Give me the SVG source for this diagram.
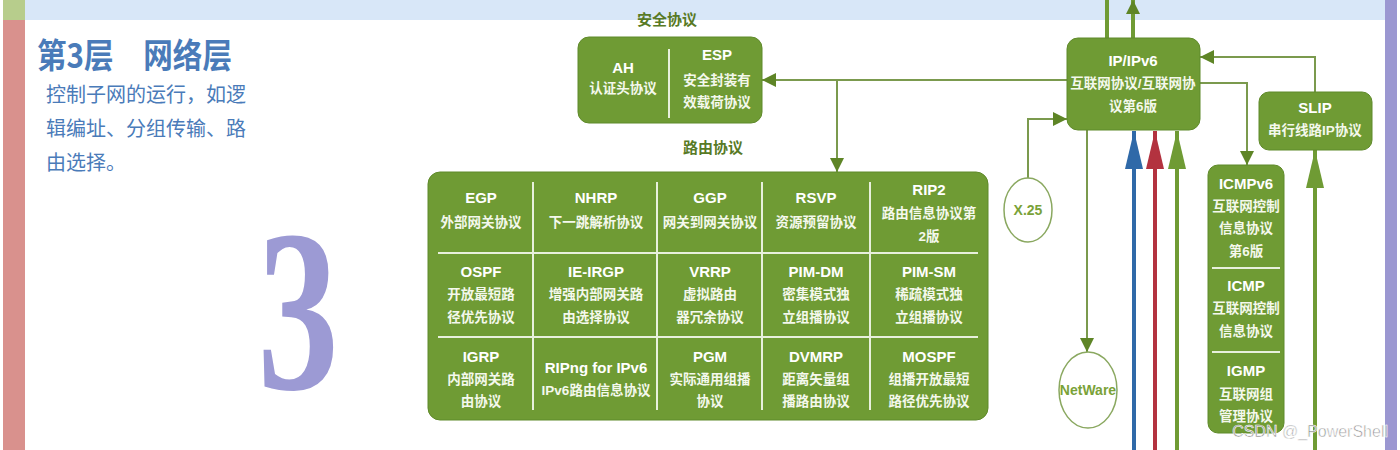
<svg xmlns="http://www.w3.org/2000/svg" width="1400" height="450" viewBox="0 0 1400 450">
<defs>
<style>
.box{fill:#6f9b34;stroke:#5f8a2a;stroke-width:1}
.div{stroke:#e8f0dc;stroke-width:2;fill:none}
.lat{font-family:"Liberation Sans","Noto Sans CJK SC",sans-serif;font-weight:700;font-size:15px;fill:#fff;text-anchor:middle}
.cjk{font-family:"Liberation Sans","Noto Sans CJK SC",sans-serif;font-weight:700;font-size:13.5px;fill:#f4f8ec;text-anchor:middle}
.conn{stroke:#7b9a4e;stroke-width:2;fill:none}
.thick{stroke-width:4;fill:none}
.circ{fill:#fff;stroke:#8aa860;stroke-width:1.5}
.ctext{font-family:"Liberation Sans",sans-serif;font-weight:700;font-size:14px;fill:#7aa238;text-anchor:middle}
.blue{font-family:"Noto Sans CJK SC","Liberation Sans",sans-serif;fill:#4a7bb9}
.lbl{font-family:"Noto Sans CJK SC",sans-serif;font-weight:700;font-size:15px;fill:#587a25;text-anchor:middle}
</style>
<marker id="ah" viewBox="0 0 14 14" refX="14" refY="7" markerWidth="14" markerHeight="14" markerUnits="userSpaceOnUse" orient="auto"><path d="M0,0 L14,7 L0,14 z" fill="#5e8526"/></marker>
<marker id="hb" viewBox="0 0 38 18" refX="38" refY="9" markerWidth="38" markerHeight="18" markerUnits="userSpaceOnUse" orient="auto"><path d="M0,0 L38,9 L0,18 z" fill="#2f69a8"/></marker>
<marker id="hr" viewBox="0 0 38 18" refX="38" refY="9" markerWidth="38" markerHeight="18" markerUnits="userSpaceOnUse" orient="auto"><path d="M0,0 L38,9 L0,18 z" fill="#b3323f"/></marker>
<marker id="hg" viewBox="0 0 38 18" refX="38" refY="9" markerWidth="38" markerHeight="18" markerUnits="userSpaceOnUse" orient="auto"><path d="M0,0 L38,9 L0,18 z" fill="#6f9b34"/></marker>
</defs>

<!-- background -->
<rect x="0" y="0" width="1400" height="450" fill="#fff"/>
<rect x="25" y="0" width="1360" height="20" fill="#d8e7f8"/>
<rect x="3" y="0" width="22" height="20" fill="#b7cd8c"/>
<rect x="3" y="20" width="22" height="430" fill="#d9918d"/>
<rect x="1385" y="0" width="12" height="450" fill="#9b97d1"/>

<!-- title -->
<g id="title">
<text class="blue" x="37" y="68" font-size="34" font-weight="700" textLength="195" lengthAdjust="spacingAndGlyphs">第3层　网络层</text>
<text class="blue" x="46" y="102" font-size="20">控制子网的运行，如逻</text>
<text class="blue" x="46" y="136" font-size="20">辑编址、分组传输、路</text>
<text class="blue" x="46" y="170" font-size="20">由选择。</text>
<text x="298" y="389" font-family="Liberation Serif,serif" font-size="232" font-weight="700" fill="#9c9ad4" text-anchor="middle" transform="translate(298 0) scale(0.7 1) translate(-298 0)">3</text>
</g>

<text class="lbl" x="667" y="25">安全协议</text>
<text class="lbl" x="713" y="153">路由协议</text>

<!-- connectors -->
<g id="connectors">
<line x1="1107" y1="38" x2="1107" y2="0" stroke="#6f9b34" stroke-width="4"/>
<line x1="1133" y1="38" x2="1133" y2="0" stroke="#6f9b34" stroke-width="4" marker-end="url(#ah)"/>
<line class="conn" x1="1067" y1="80" x2="762" y2="80" marker-end="url(#ah)"/>
<line class="conn" x1="837" y1="80" x2="837" y2="172" marker-end="url(#ah)"/>
<polyline class="conn" points="1028,178 1028,119 1067,119" marker-end="url(#ah)"/>
<line class="conn" x1="1087" y1="130" x2="1087" y2="352" marker-end="url(#ah)"/>
<polyline class="conn" points="1200,83 1247,83 1247,165" marker-end="url(#ah)"/>
<polyline class="conn" points="1315,92 1315,57 1200,57" marker-end="url(#ah)"/>
<line class="thick" x1="1134" y1="450" x2="1134" y2="131" stroke="#2f69a8" marker-end="url(#hb)"/>
<line class="thick" x1="1155" y1="450" x2="1155" y2="131" stroke="#b3323f" marker-end="url(#hr)"/>
<line class="thick" x1="1177" y1="450" x2="1177" y2="131" stroke="#6f9b34" marker-end="url(#hg)"/>
<line class="thick" x1="1315" y1="450" x2="1315" y2="150" stroke="#6f9b34" marker-end="url(#hg)"/>
</g>

<!-- security -->
<g id="security">
<rect class="box" x="578" y="37" width="184" height="86" rx="11"/>
<line class="div" x1="669" y1="49" x2="669" y2="118"/>
<text class="lat" x="623" y="73">AH</text>
<text class="cjk" x="623" y="93">认证头协议</text>
<text class="lat" x="717" y="60">ESP</text>
<text class="cjk" x="717" y="85">安全封装有</text>
<text class="cjk" x="717" y="107">效载荷协议</text>
</g>

<!-- routing -->
<g id="routing">
<rect class="box" x="428" y="172" width="560" height="248" rx="12"/>
<line class="div" x1="533" y1="182" x2="533" y2="410"/>
<line class="div" x1="657" y1="182" x2="657" y2="410"/>
<line class="div" x1="762" y1="182" x2="762" y2="410"/>
<line class="div" x1="870" y1="182" x2="870" y2="410"/>
<line class="div" x1="438" y1="253" x2="978" y2="253"/>
<line class="div" x1="438" y1="337" x2="978" y2="337"/>
<text class="lat" x="481" y="203">EGP</text>
<text class="cjk" x="481" y="227">外部网关协议</text>
<text class="lat" x="596" y="203">NHRP</text>
<text class="cjk" x="596" y="227">下一跳解析协议</text>
<text class="lat" x="710" y="203">GGP</text>
<text class="cjk" x="710" y="227">网关到网关协议</text>
<text class="lat" x="816" y="203">RSVP</text>
<text class="cjk" x="816" y="227">资源预留协议</text>
<text class="lat" x="929" y="195">RIP2</text>
<text class="cjk" x="929" y="218">路由信息协议第</text>
<text class="cjk" x="929" y="241">2版</text>

<text class="lat" x="481" y="277">OSPF</text>
<text class="cjk" x="481" y="299">开放最短路</text>
<text class="cjk" x="481" y="322">径优先协议</text>
<text class="lat" x="596" y="277">IE-IRGP</text>
<text class="cjk" x="596" y="299">增强内部网关路</text>
<text class="cjk" x="596" y="322">由选择协议</text>
<text class="lat" x="710" y="277">VRRP</text>
<text class="cjk" x="710" y="299">虚拟路由</text>
<text class="cjk" x="710" y="322">器冗余协议</text>
<text class="lat" x="816" y="277">PIM-DM</text>
<text class="cjk" x="816" y="299">密集模式独</text>
<text class="cjk" x="816" y="322">立组播协议</text>
<text class="lat" x="929" y="277">PIM-SM</text>
<text class="cjk" x="929" y="299">稀疏模式独</text>
<text class="cjk" x="929" y="322">立组播协议</text>

<text class="lat" x="481" y="362">IGRP</text>
<text class="cjk" x="481" y="384">内部网关路</text>
<text class="cjk" x="481" y="406">由协议</text>
<text class="lat" x="596" y="373">RIPng for IPv6</text>
<text class="cjk" x="596" y="395">IPv6路由信息协议</text>
<text class="lat" x="710" y="362">PGM</text>
<text class="cjk" x="710" y="384">实际通用组播</text>
<text class="cjk" x="710" y="406">协议</text>
<text class="lat" x="816" y="362">DVMRP</text>
<text class="cjk" x="816" y="384">距离矢量组</text>
<text class="cjk" x="816" y="406">播路由协议</text>
<text class="lat" x="929" y="362">MOSPF</text>
<text class="cjk" x="929" y="384">组播开放最短</text>
<text class="cjk" x="929" y="406">路径优先协议</text>
</g>

<!-- IP -->
<g id="ip">
<rect class="box" x="1067" y="38" width="133" height="92" rx="11"/>
<text class="lat" x="1133" y="66">IP/IPv6</text>
<text class="cjk" x="1133" y="88">互联网协议/互联网协</text>
<text class="cjk" x="1133" y="111">议第6版</text>
</g>

<g id="slip">
<rect class="box" x="1259" y="92" width="113" height="58" rx="10"/>
<text class="lat" x="1315" y="113">SLIP</text>
<text class="cjk" x="1315" y="135">串行线路IP协议</text>
</g>

<g id="icmp">
<rect class="box" x="1208" y="165" width="76" height="268" rx="10"/>
<line class="div" x1="1212" y1="268" x2="1280" y2="268"/>
<line class="div" x1="1212" y1="352" x2="1280" y2="352"/>
<text class="lat" x="1246" y="189">ICMPv6</text>
<text class="cjk" x="1246" y="211">互联网控制</text>
<text class="cjk" x="1246" y="233">信息协议</text>
<text class="cjk" x="1246" y="256">第6版</text>
<text class="lat" x="1246" y="291">ICMP</text>
<text class="cjk" x="1246" y="313">互联网控制</text>
<text class="cjk" x="1246" y="336">信息协议</text>
<text class="lat" x="1246" y="376">IGMP</text>
<text class="cjk" x="1246" y="399">互联网组</text>
<text class="cjk" x="1246" y="421">管理协议</text>
</g>

<g id="x25">
<ellipse class="circ" cx="1028" cy="210" rx="24" ry="32"/>
<text class="ctext" x="1028" y="215">X.25</text>
</g>

<g id="netware">
<ellipse class="circ" cx="1088" cy="390" rx="29" ry="38"/>
<text class="ctext" x="1088" y="395">NetWare</text>
</g>

<text x="1388" y="437" font-family="Liberation Sans,sans-serif" font-size="16" fill="#8a8a8a" stroke="#ffffff" stroke-width="0.6" text-anchor="end">CSDN @_PowerShell</text>
</svg>
